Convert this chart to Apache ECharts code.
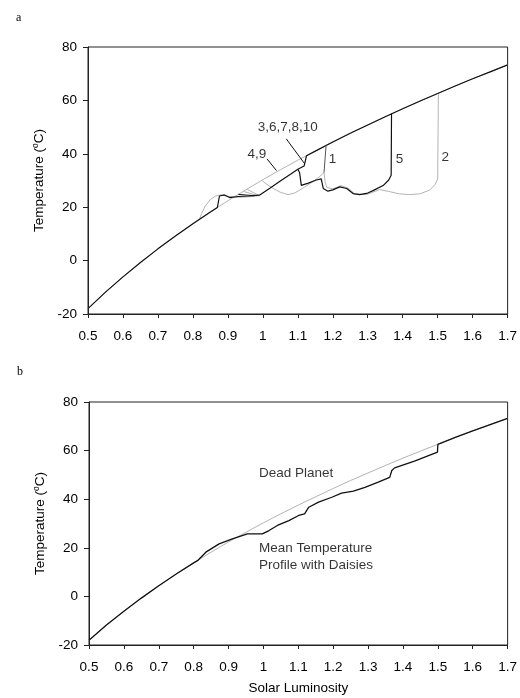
<!DOCTYPE html>
<html>
<head>
<meta charset="utf-8">
<script src="https://cdn.jsdelivr.net/npm/echarts@6/dist/echarts.min.js"></script>
<style>
  html, body { margin: 0; padding: 0; background: #fff; }
  #chart { width: 520px; height: 698px; }
</style>
</head>
<body>
<div id="chart"></div>
<script>
// dead planet (no daisies)
const deadPlanet = [
  [0.5, -18.0], [0.55, -11.8], [0.6, -6.1], [0.65, -0.7], [0.7, 4.4], [0.75, 9.2],
  [0.8, 13.8], [0.85, 18.2], [0.9, 22.4], [0.95, 26.4], [1.0, 30.3], [1.05, 34.0],
  [1.1, 37.6], [1.15, 41.0], [1.2, 44.4], [1.25, 47.7], [1.3, 50.8], [1.35, 53.9],
  [1.4, 56.9], [1.45, 59.8], [1.5, 62.6], [1.55, 65.4], [1.6, 68.1], [1.65, 70.7], [1.7, 73.3]
]

// panel a: runs 3,6,7,8,10 (black)
const runA = [
  [0.5, -18.0], [0.55, -11.8], [0.6, -6.1], [0.65, -0.7], [0.7, 4.4], [0.75, 9.2],
  [0.8, 13.8], [0.85, 18.2], [0.87, 19.9], [0.876, 24.2], [0.89, 24.6], [0.905, 23.6],
  [0.93, 24.0], [0.96, 24.2], [0.99, 24.5], [1.02, 27.1], [1.05, 29.8], [1.08, 32.4],
  [1.1, 34.2], [1.118, 35.4], [1.125, 39.3], [1.15, 41.0], [1.2, 44.4], [1.25, 47.7],
  [1.3, 50.8], [1.35, 53.9], [1.4, 56.9], [1.45, 59.8], [1.5, 62.6], [1.55, 65.4],
  [1.6, 68.1], [1.65, 70.7], [1.7, 73.3]
]
// run 5 (black)
const run5 = [
  [1.1, 34.2], [1.105, 33.0], [1.11, 28.2], [1.13, 29.0], [1.153, 30.2], [1.167, 30.6],
  [1.173, 27.0], [1.186, 26.0], [1.2, 26.5], [1.22, 27.6], [1.24, 27.0], [1.258, 25.1],
  [1.277, 24.7], [1.3, 25.3], [1.315, 26.2], [1.344, 28.1], [1.36, 30.2], [1.367, 32.0], [1.368, 55.1]
]
// early grey run, daisies at 0.82
const greyEarly = [
  [0.818, 15.3], [0.825, 17.6], [0.835, 20.4], [0.85, 22.9], [0.865, 24.2], [0.88, 24.6],
  [0.9, 24.1], [0.93, 23.7], [0.96, 23.9], [0.99, 24.3]
]
// runs 1 and 2 (grey)
const greyRun12 = [
  [0.998, 29.9], [1.012, 28.5], [1.03, 27.0], [1.05, 25.6], [1.072, 24.7], [1.09, 25.3],
  [1.1, 26.0], [1.12, 27.6], [1.14, 29.3], [1.16, 31.2], [1.175, 33.0], [1.178, 29.5],
  [1.183, 27.4], [1.2, 26.9], [1.224, 28.1], [1.243, 27.2], [1.263, 25.0], [1.296, 24.7],
  [1.334, 26.6], [1.36, 25.9], [1.39, 25.0], [1.42, 24.7], [1.449, 25.0], [1.477, 26.4],
  [1.492, 28.4], [1.5, 30.6], [1.502, 62.3]
]
// run 1 collapse
const run1Jump = [[1.175, 33.0], [1.181, 43.4]]
// late blooms dropping from the dead line
const fanBlack = [[0.93, 24.8], [0.975, 24.3]]
const fanGrey1 = [[0.945, 25.9], [0.982, 24.4]]
const fanGrey2 = [[0.955, 26.7], [0.988, 24.4]]

// leader lines and labels, panel a
const leader36 = [[1.067, 45.6], [1.12, 36.2]]
const leader49 = [[1.012, 38.1], [1.039, 33.7]]
const labelsA = [
  [1.071, 50.0, '3,6,7,8,10'], [0.983, 40.0, '4,9'], [1.199, 38.1, '1'],
  [1.391, 38.1, '5'], [1.522, 38.7, '2']
]

// panel b: mean temperature with daisies
const meanTemp = [
  [0.5, -18.0], [0.55, -11.8], [0.6, -6.1], [0.65, -0.7], [0.7, 4.4], [0.75, 9.2],
  [0.8, 13.8], [0.811, 14.7], [0.835, 18.2], [0.873, 21.6], [0.911, 23.7], [0.954, 25.7],
  [0.997, 25.7], [1.016, 27.1], [1.04, 29.2], [1.073, 31.2], [1.101, 33.3], [1.118, 34.0],
  [1.13, 36.7], [1.158, 38.8], [1.196, 40.8], [1.224, 42.5], [1.258, 43.3], [1.291, 44.9],
  [1.329, 47.0], [1.362, 49.0], [1.368, 51.8], [1.376, 52.9], [1.433, 55.7], [1.499, 59.4],
  [1.5, 62.6], [1.55, 65.4], [1.6, 68.1], [1.65, 70.7], [1.7, 73.3]
]
const labelsB = [
  [0.987, 50.7, 'Dead Planet'], [0.987, 20.0, 'Mean Temperature'], [0.987, 12.7, 'Profile with Daisies']
]

const xTicks = { min: 0.5, max: 1.7, interval: 0.1 }
const yTicks = { min: -20, max: 80, interval: 20 }

const FONT = 'Liberation Sans, Arial, sans-serif'
const BLACK = '#111'
const GREY = '#b4b4b4'
const TEXT = '#000'

const chart = echarts.init(document.getElementById('chart'), null, { renderer: 'canvas' })

function xAxis(gridIndex, withName) {
  return {
    type: 'value', gridIndex, min: xTicks.min, max: xTicks.max, interval: xTicks.interval,
    name: withName ? 'Solar Luminosity' : '', nameLocation: 'middle', nameGap: 36,
    nameTextStyle: { fontFamily: FONT, fontSize: 13.5, color: TEXT },
    axisLine: { onZero: false, lineStyle: { color: '#222', width: 1 } },
    axisTick: { show: true, length: 4, inside: false, lineStyle: { color: '#222' } },
    axisLabel: { margin: 15, fontFamily: FONT, fontSize: 13.5, color: TEXT,
      formatter: v => String(Math.round(v * 10) / 10) },
    splitLine: { show: false }
  }
}

function yAxis(gridIndex) {
  return {
    type: 'value', gridIndex, min: yTicks.min, max: yTicks.max, interval: yTicks.interval,
    name: 'Temperature ({sup|o}C)', nameLocation: 'middle', nameGap: 35, nameRotate: 90,
    nameTextStyle: { fontFamily: FONT, fontSize: 13.5, color: TEXT,
      rich: { sup: { fontFamily: FONT, fontSize: 8.5, color: TEXT, padding: [0, 0, 7, 0] } } },
    axisLine: { show: true, onZero: false, lineStyle: { color: '#222', width: 1 } },
    axisTick: { show: true, length: 5, lineStyle: { color: '#222' } },
    axisLabel: { margin: 11, fontFamily: FONT, fontSize: 13.5, color: TEXT },
    splitLine: { show: false }
  }
}

function line(data, color, width, idx) {
  return {
    type: 'line', data, xAxisIndex: idx, yAxisIndex: idx, symbol: 'none', smooth: false,
    lineStyle: { color, width }, z: color === GREY ? 2 : 3
  }
}

function textSeries(items, idx, align) {
  return {
    type: 'scatter', xAxisIndex: idx, yAxisIndex: idx, symbolSize: 0, z: 5,
    data: items.map(d => ({ value: [d[0], d[1]], name: d[2] })),
    label: { show: true, position: 'inside', align, verticalAlign: 'middle',
      formatter: p => p.name, fontFamily: FONT, fontSize: 13.5, color: TEXT }
  }
}

chart.setOption({
  animation: false,
  backgroundColor: '#fff',
  title: [
    { text: 'a', left: 11, top: 7, textStyle: { fontFamily: 'Liberation Serif, serif', fontSize: 12, fontWeight: 'normal', color: TEXT } },
    { text: 'b', left: 12, top: 361, textStyle: { fontFamily: 'Liberation Serif, serif', fontSize: 12, fontWeight: 'normal', color: TEXT } }
  ],
  grid: [
    { left: 88, right: 12, top: 47, height: 267, show: true, borderColor: '#222', borderWidth: 1 },
    { left: 89, right: 10, top: 402, height: 243, show: true, borderColor: '#222', borderWidth: 1 }
  ],
  xAxis: [xAxis(0, false), xAxis(1, true)],
  yAxis: [yAxis(0), yAxis(1)],
  series: [
    // panel a
    line(deadPlanet, GREY, 1, 0),
    line(greyEarly, GREY, 1, 0),
    line(greyRun12, GREY, 1, 0),
    line(fanGrey1, GREY, 1, 0),
    line(fanGrey2, GREY, 1, 0),
    line(runA, BLACK, 1.2, 0),
    line(run5, BLACK, 1.2, 0),
    line(fanBlack, BLACK, 1, 0),
    line(run1Jump, '#555', 1, 0),
    line(leader36, BLACK, 1, 0),
    line(leader49, BLACK, 1, 0),
    textSeries(labelsA, 0, 'center'),
    // panel b
    line(deadPlanet, GREY, 1, 1),
    line(meanTemp, BLACK, 1.3, 1),
    textSeries(labelsB, 1, 'left')
  ]
})
</script>
</body>
</html>
